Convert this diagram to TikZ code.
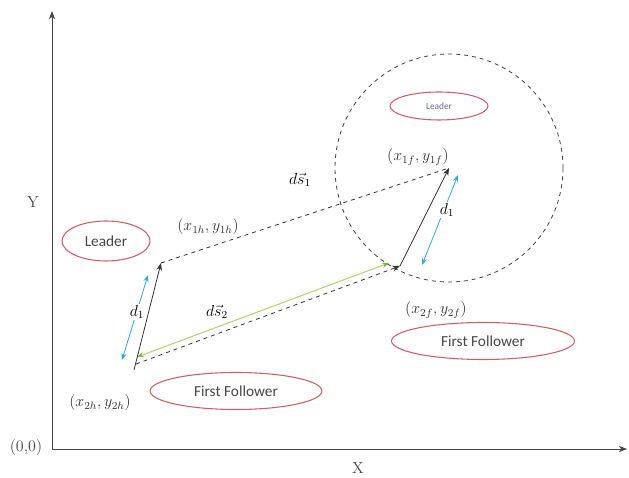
\documentclass[tikz,border=0pt]{standalone}
\usepackage{amsmath,amssymb}
\usepackage{fontspec}
\newfontfamily\calibri{Carlito}
\usepackage{tikz}
\usetikzlibrary{arrows.meta,positioning,shapes.geometric,calc}
\definecolor{ovalred}{RGB}{205,95,105}
\definecolor{textgray}{RGB}{70,70,70}
\definecolor{skyblue}{RGB}{40,170,230}
\definecolor{limegreen}{RGB}{175,215,110}
\definecolor{leafgreen}{RGB}{120,185,70}
\definecolor{slate}{RGB}{95,110,135}
\tikzset{
  oval/.style={ellipse, draw=ovalred, thick, minimum width=#1, minimum height=37*0.75pt,
               inner sep=0pt, font=\calibri\fontsize{11.5}{13}\selectfont, text=textgray},
  coordlabel/.style={font=\large, text=black!80},
  axis/.style={-{Stealth[length=2.2mm]}, semithick, textgray},
  link/.style={-{Stealth[length=2mm]}, semithick, black!80},
  dashlink/.style={dashed, semithick, black!80},
  span/.style={{Stealth[length=1.8mm]}-{Stealth[length=1.8mm]}, semithick, skyblue},
  glide/.style={{Stealth[length=1.8mm, leafgreen]}-{Stealth[length=1.8mm, leafgreen]}, thick, limegreen},
  dlabel/.style={fill=white, inner sep=1pt, font=\large},
}
\begin{document}
\begin{tikzpicture}[x=0.75pt, y=0.75pt]
\useasboundingbox (0,0) rectangle (629,478);
% axes
\coordinate (origin) at (52,29);
\coordinate (ytip) at (52,467);
\coordinate (xtip) at (627,29);
\draw[axis] (origin) -- (ytip);
\draw[axis] (origin) -- (xtip);
\node[font=\large, text=textgray] (ylab) at (33,276) {Y};
\node[font=\large, text=textgray] (xlab) at (358,10) {X};
\node[font=\large, text=textgray] (olab) at (26,30) {(0,0)};

% positions
\coordinate (lead2) at (161,215);
\coordinate (foll2) at (134,108);
\coordinate (lead1) at (449,310);
\coordinate (foll1) at (400,212);

% circle round the leader
\draw[dashed, semithick, black!75] (lead1) circle[radius=114];

% blue spans
\coordinate (b2a) at (122,118);
\coordinate (b2b) at (148,203);
\coordinate (b1a) at (422,213);
\coordinate (b1b) at (458,303);
\draw[span] (b2a) -- (b2b);
\draw[span] (b1a) -- (b1b);
\node[dlabel] (dl2) at (137,166) {$d_1$};
\node[dlabel] (dl1) at (447,268) {$d_1$};

% green path and distances
\coordinate (g2) at (137,121);
\coordinate (g1) at (389,215);
\draw[glide] (g2) -- (g1);
\draw[dashlink] (lead2) -- (lead1);
\draw[dashlink, -{Stealth[length=2mm]}] ($(foll2)+(2,6)$) -- (foll1);
\draw[link] (foll2) -- (lead2);
\draw[link] (foll1) -- (lead1);
\node[font=\large] (ds1) at (300,298) {$d\vec{s}_1$};
\node[font=\large] (ds2) at (217,166) {$d\vec{s}_2$};

% coordinates
\node[coordlabel] (p1h) at (208,251) {$(x_{1h},y_{1h})$};
\node[coordlabel] (p2h) at (100,75) {$(x_{2h},y_{2h})$};
\node[coordlabel] (p1f) at (418,321) {$(x_{1f},y_{1f})$};
\node[coordlabel] (p2f) at (436,168) {$(x_{2f},y_{2f})$};

% labels in ovals
\node[oval=88*0.75pt, minimum height=40*0.75pt] (leadL) at (106,237) {Leader};
\node[oval=98*0.75pt, minimum height=28*0.75pt, font=\calibri\scriptsize, text=slate] (leadR) at (439,372) {Leader};
\node[oval=172*0.75pt] (follL) at (236,87) {First Follower};
\node[oval=183*0.75pt] (follR) at (483,137) {First Follower};
\end{tikzpicture}
\end{document}
